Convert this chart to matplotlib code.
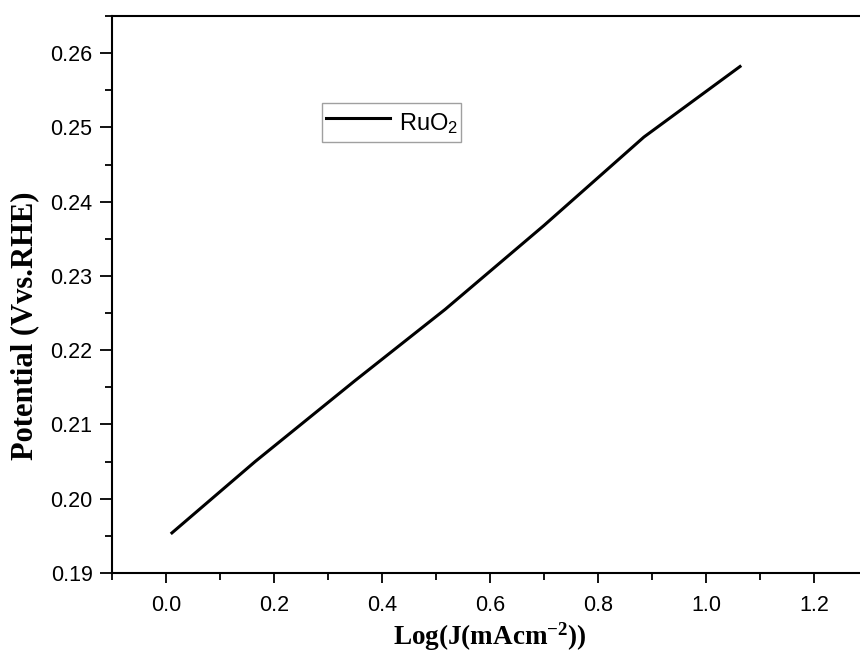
import matplotlib
matplotlib.use("Agg")
import matplotlib.pyplot as plt
from matplotlib.ticker import MultipleLocator, FormatStrFormatter

log_j = [0.011, 0.165, 0.35, 0.517, 0.70, 0.885, 1.063]
potential = [0.1954, 0.2050, 0.2159, 0.2255, 0.2368, 0.2487, 0.2582]
series_label = "RuO$\\mathregular{_2}$"
x_label = "Log(J(mAcm$\\mathregular{^{-2}}$))"
y_label = "Potential (Vvs.RHE)"

fig = plt.figure(figsize=(8.6, 6.54), dpi=100)
ax = fig.add_axes([112/860, 1-573/654, 756/860, 557/654])
ax.plot(log_j, potential, color="black", lw=2.2, label=series_label)

ax.set_xlim(-0.1, 1.3)
ax.set_ylim(0.19, 0.265)
ax.xaxis.set_major_locator(MultipleLocator(0.2))
ax.xaxis.set_minor_locator(MultipleLocator(0.1))
ax.yaxis.set_major_locator(MultipleLocator(0.01))
ax.yaxis.set_minor_locator(MultipleLocator(0.005))
ax.xaxis.set_major_formatter(FormatStrFormatter("%.1f"))
ax.yaxis.set_major_formatter(FormatStrFormatter("%.2f"))
ax.tick_params(axis="x", which="major", direction="out", length=7, width=1.3,
               labelsize=15.5, pad=9)
ax.tick_params(axis="y", which="major", direction="out", length=9, width=1.3,
               labelsize=15.5, pad=5)
ax.tick_params(which="minor", direction="out", length=5, width=1.3)
for lab in ax.get_xticklabels() + ax.get_yticklabels():
    lab.set_fontfamily("Liberation Sans")
for s in ax.spines.values():
    s.set_linewidth(1.5)
ax.spines["right"].set_visible(False)

ax.set_xlabel(x_label, fontfamily="Liberation Serif", fontweight="bold",
              fontsize=19.5, labelpad=3)
ax.set_ylabel(y_label, fontfamily="Liberation Serif", fontweight="bold",
              fontsize=22)
ax.yaxis.set_label_coords((39-112)/756, (573-326)/557)

leg = ax.legend(loc="upper left", bbox_to_anchor=((322-112)/756, (573-103)/557),
                prop={"family": "Liberation Sans", "size": 17},
                frameon=True, fancybox=False, handlelength=2.75,
                handleheight=1.7, handletextpad=0.35, borderpad=0.15,
                borderaxespad=0)
leg.get_frame().set_edgecolor("#888888")
leg.get_frame().set_linewidth(1.0)

fig.savefig("out.png", dpi=100)
